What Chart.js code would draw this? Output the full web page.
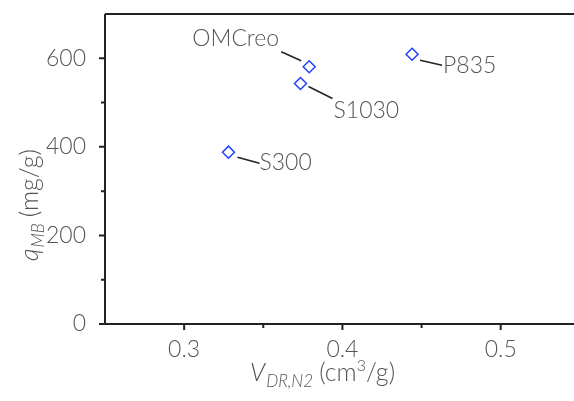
<!DOCTYPE html>
<html>
<head>
<meta charset="utf-8">
<script src="https://cdn.jsdelivr.net/npm/chart.js@4"></script>
<style>
  html, body { margin: 0; padding: 0; background: #fff; }
  #wrap { width: 574px; height: 401px; }
</style>
</head>
<body>
<div id="wrap"><canvas id="grafico"></canvas></div>
<script>
// datos
const muestras = ['OMCreo', 'S1030', 'P835', 'S300'];
const volumenDR = [0.379, 0.3735, 0.444, 0.328];
const qMB = [581, 543, 609, 388];
const ticksX = [0.3, 0.4, 0.5];
const ticksXMenores = [0.35, 0.45];
const ticksY = [0, 200, 400, 600];
const ticksYMenores = [100, 300, 500];

// posicion de cada etiqueta respecto a su punto (px)
const etiquetas = {
    'OMCreo': { linea: [-28, -15, -8, -6], texto: [-30, -28], alinear: 'right' },
    'S1030': { linea: [8, 3, 32, 15], texto: [33, 27], alinear: 'left' },
    'P835': { linea: [8, 6, 30, 11], texto: [31, 11], alinear: 'left' },
    'S300': { linea: [9, 5, 31, 11], texto: [31, 10], alinear: 'left' }
};

const fuente = 'Lato, "DejaVu Sans", sans-serif';
const colorTexto = '#555';
const colorEje = '#222';

const ejesPlugin = {
    id: 'ejes',
    afterDraw(chart) {
        const ctx = chart.ctx;
        const { left, right, top, bottom } = chart.chartArea;
        const x = chart.scales.x, y = chart.scales.y;
        ctx.save();
        ctx.strokeStyle = colorEje;
        ctx.lineWidth = 2;
        ctx.beginPath();
        ctx.moveTo(left, top); ctx.lineTo(right, top);
        ctx.moveTo(left, top); ctx.lineTo(left, bottom + 1);
        ctx.moveTo(left - 1, bottom); ctx.lineTo(right, bottom);
        // marcas
        ticksY.forEach(v => { const p = y.getPixelForValue(v); ctx.moveTo(left - 6, p); ctx.lineTo(left, p); });
        ticksYMenores.forEach(v => { const p = y.getPixelForValue(v); ctx.moveTo(left - 4, p); ctx.lineTo(left, p); });
        ticksX.forEach(v => { const p = x.getPixelForValue(v); ctx.moveTo(p, bottom); ctx.lineTo(p, bottom + 6); });
        ticksXMenores.forEach(v => { const p = x.getPixelForValue(v); ctx.moveTo(p, bottom); ctx.lineTo(p, bottom + 4); });
        ctx.stroke();

        // etiquetas de las muestras
        ctx.lineWidth = 1.5;
        ctx.fillStyle = colorTexto;
        ctx.font = '300 23px ' + fuente;
        ctx.textBaseline = 'middle';
        muestras.forEach((m, i) => {
            const px = x.getPixelForValue(volumenDR[i]);
            const py = y.getPixelForValue(qMB[i]);
            const e = etiquetas[m];
            ctx.beginPath();
            ctx.moveTo(px + e.linea[0], py + e.linea[1]);
            ctx.lineTo(px + e.linea[2], py + e.linea[3]);
            ctx.stroke();
            ctx.textAlign = e.alinear;
            ctx.fillText(m, px + e.texto[0], py + e.texto[1]);
        });

        // titulo eje x: V_DR,N2 (cm3/g)
        ctx.textAlign = 'left';
        ctx.textBaseline = 'alphabetic';
        let cx = 250, base = 381;
        ctx.font = 'italic 300 25px ' + fuente;
        ctx.fillText('V', cx, base); cx += ctx.measureText('V').width + 1;
        ctx.font = 'italic 300 17px ' + fuente;
        ctx.fillText('DR,N2', cx, base + 6); cx += ctx.measureText('DR,N2').width + 6;
        ctx.font = '300 25px ' + fuente;
        ctx.fillText('(cm', cx, base); cx += ctx.measureText('(cm').width;
        ctx.font = '300 16px ' + fuente;
        ctx.fillText('3', cx, base - 10); cx += ctx.measureText('3').width;
        ctx.font = '300 25px ' + fuente;
        ctx.fillText('/g)', cx, base);

        // titulo eje y: q_MB (mg/g)
        ctx.translate(38, 261);
        ctx.rotate(-Math.PI / 2);
        cx = 0;
        ctx.font = 'italic 300 25px ' + fuente;
        ctx.fillText('q', cx, 0); cx += ctx.measureText('q').width + 1;
        ctx.font = 'italic 300 17px ' + fuente;
        ctx.fillText('MB', cx, 6); cx += ctx.measureText('MB').width + 6;
        ctx.font = '300 25px ' + fuente;
        ctx.fillText('(mg/g)', cx, 0);
        ctx.restore();
    }
};

const grafico = new Chart(document.getElementById('grafico'), {
    type: 'scatter',
    data: {
        datasets: [{
            data: muestras.map((m, i) => ({ x: volumenDR[i], y: qMB[i] })),
            pointStyle: 'rectRot',
            pointRadius: 6,
            pointHoverRadius: 6,
            borderColor: '#2040ff',
            backgroundColor: 'rgba(255,255,255,0)',
            borderWidth: 1.5
        }]
    },
    options: {
        responsive: true,
        maintainAspectRatio: false,
        animation: false,
        layout: { autoPadding: false, padding: { top: 14, right: 0, left: 0, bottom: 0 } },
        plugins: { legend: { display: false }, tooltip: { enabled: false } },
        scales: {
            x: {
                type: 'linear',
                min: 0.25,
                max: 0.5463,
                afterBuildTicks: s => { s.ticks = ticksX.map(v => ({ value: v })); },
                afterFit: s => { s.height = 77; s.paddingLeft = 0; s.paddingRight = 0; },
                grid: { display: false },
                border: { display: false },
                ticks: { color: colorTexto, font: { family: fuente, size: 23, weight: 300 }, padding: 4, maxRotation: 0,
                         callback: v => v.toFixed(1) }
            },
            y: {
                min: 0,
                max: 700,
                afterBuildTicks: s => { s.ticks = ticksY.map(v => ({ value: v })); },
                afterFit: s => { s.width = 105; s.paddingTop = 0; s.paddingBottom = 0; },
                grid: { display: false },
                border: { display: false },
                ticks: { color: colorTexto, font: { family: fuente, size: 23, weight: 300 }, padding: 11 }
            }
        }
    },
    plugins: [ejesPlugin]
});
</script>
</body>
</html>
